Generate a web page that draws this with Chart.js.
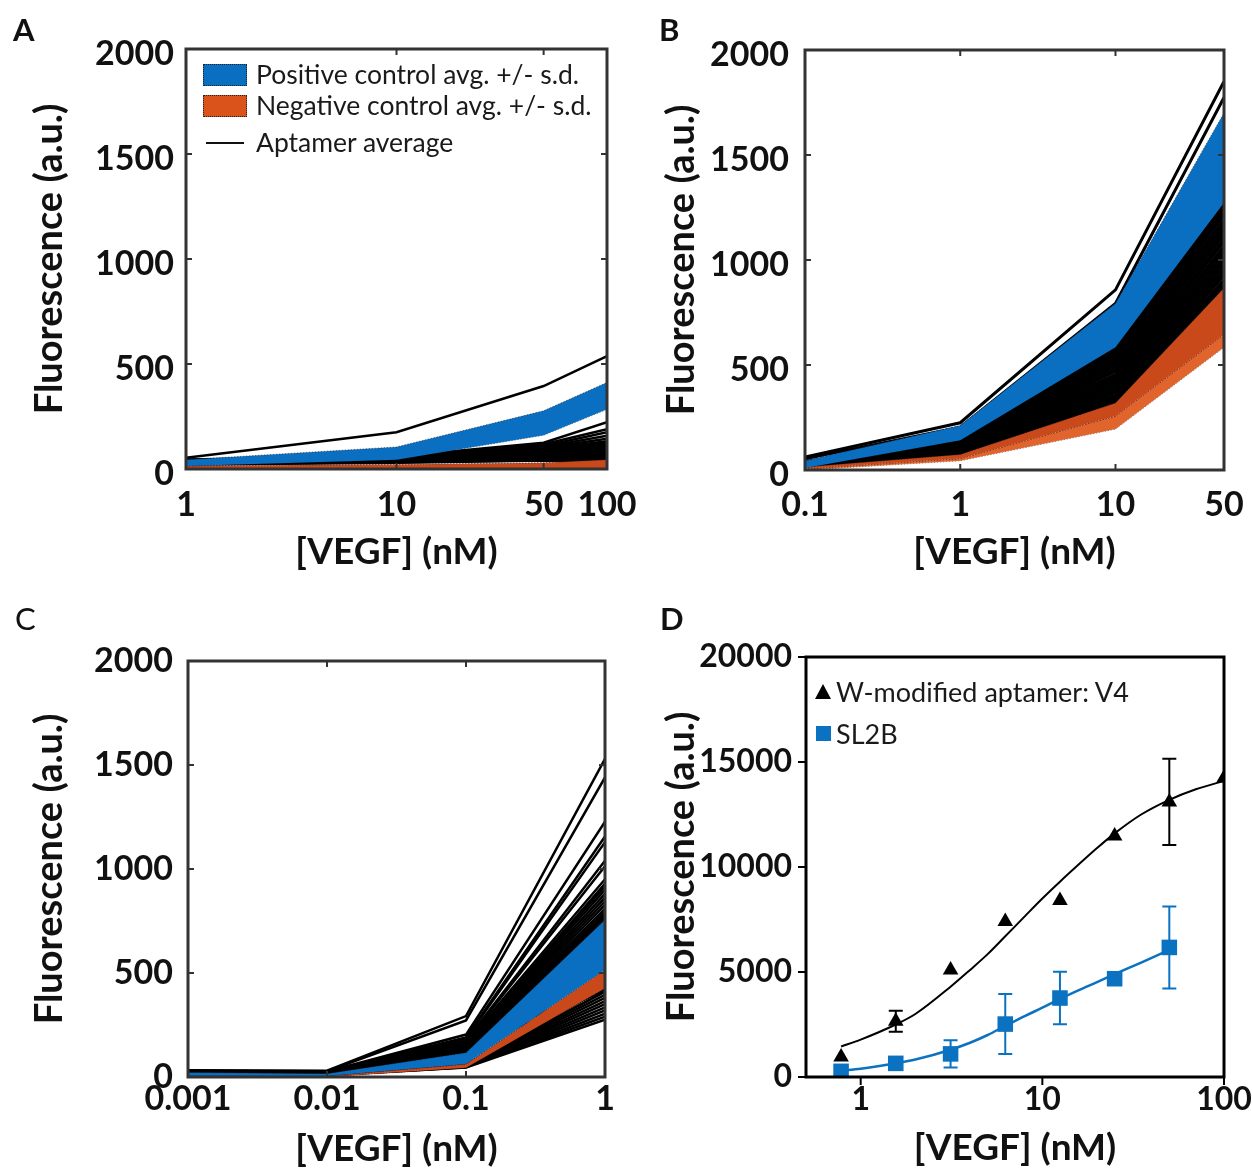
<!DOCTYPE html>
<html>
<head>
<meta charset="utf-8">
<script src="https://cdn.jsdelivr.net/npm/chart.js@4.4.1/dist/chart.umd.min.js"></script>
<style>
  body { margin: 0; background: #fff; }
  #page { position: relative; width: 1252px; height: 1171px; overflow: hidden; font-family: Lato, "Open Sans", sans-serif; color: #111; }
  canvas { position: absolute; }
  .letter { position: absolute; font-size: 31px; font-weight: bold; line-height: 31px; }
  .lg { position: absolute; font-size: 26.5px; line-height: 27px; white-space: nowrap; color: #1a1a1a; }
  .sw { position: absolute; width: 42px; height: 20px; border: 1.5px dotted #222; }
</style>
</head>
<body>
<div id="page">
  <canvas id="chartA" width="700" height="590" style="left:0;top:0"></canvas>
  <canvas id="chartB" width="680" height="590" style="left:630px;top:0"></canvas>
  <canvas id="chartC" width="650" height="581" style="left:0;top:590px"></canvas>
  <canvas id="chartD" width="680" height="581" style="left:630px;top:590px"></canvas>

  <div class="letter" style="left:13px;top:14px">A</div>
  <div class="letter" style="left:659px;top:14px">B</div>
  <div class="letter" style="left:15px;top:603px;font-weight:normal">C</div>
  <div class="letter" style="left:660px;top:603px">D</div>

  <div class="sw" style="left:203px;top:64px;background:#0a6fc0"></div>
  <div class="lg" style="left:256px;top:61px">Positive control avg. +/- s.d.</div>
  <div class="sw" style="left:203px;top:95px;background:#d9531b"></div>
  <div class="lg" style="left:256px;top:92px">Negative control avg. +/- s.d.</div>
  <div style="position:absolute;left:206px;top:142px;width:38px;height:2px;background:#111"></div>
  <div class="lg" style="left:256px;top:129px">Aptamer average</div>

  <div style="position:absolute;left:815px;top:684px;width:0;height:0;border-left:8px solid transparent;border-right:8px solid transparent;border-bottom:15px solid #000"></div>
  <div class="lg" style="left:836px;top:678px;font-size:27px">W-modified aptamer: V4</div>
  <div style="position:absolute;left:816px;top:726px;width:15px;height:15px;background:#0a72c0"></div>
  <div class="lg" style="left:836px;top:720px;font-size:27px">SL2B</div>
</div>

<script>
// ---- panel A: VEGF 1-100 nM
const concA = [1, 10, 50, 100];
const ticksA = [1, 10, 50, 100];
const posA_hi = [44, 105, 277, 412];
const posA_lo = [14, 44, 161, 284];
const negA_hi = [15, 22, 30, 44];
const negA_lo = [0, 2, 4, 5];
const aptA = [
  [53, 175, 395, 538],
  [45, 60, 125, 223],
  [44, 58, 118, 190],
  [42, 56, 110, 175],
  [40, 55, 105, 158],
  [40, 54, 100, 144],
  [38, 52, 95, 132],
  [37, 50, 90, 124],
  [36, 49, 86, 116],
  [35, 48, 82, 108],
  [34, 46, 78, 100],
  [33, 45, 74, 94],
  [32, 44, 70, 88],
  [31, 42, 66, 82],
  [30, 41, 63, 76],
  [29, 40, 60, 70],
  [28, 38, 57, 64],
  [27, 37, 54, 58],
  [26, 36, 51, 53],
  [25, 34, 48, 48],
  [24, 33, 45, 44],
  [23, 32, 42, 40],
  [22, 30, 40, 36]
];

// ---- panel B: VEGF 0.1-50 nM
const concB = [0.1, 1, 10, 50];
const ticksB = [0.1, 1, 10, 50];
const posB_hi = [44, 212, 793, 1700];
const posB_lo = [9, 142, 584, 1274];
const negB_hi = [14, 74, 319, 867];
const negB_mid = [6, 55, 257, 646];
const negB_lo = [0, 44, 195, 584];
const aptB = [
  [62, 225, 858, 1850],
  [53, 204, 793, 1774],
  [40, 142, 584, 1265],
  [38, 140, 570, 1250],
  [36, 138, 560, 1238],
  [35, 135, 548, 1222],
  [34, 132, 535, 1210],
  [33, 150, 500, 1232],
  [32, 128, 522, 1190],
  [31, 125, 510, 1172],
  [30, 122, 495, 1155],
  [29, 118, 482, 1138],
  [28, 115, 470, 1120],
  [27, 112, 455, 1100],
  [26, 108, 442, 1085],
  [25, 105, 430, 1065],
  [24, 102, 418, 1048],
  [23, 98, 405, 1030],
  [22, 95, 392, 1012],
  [21, 92, 380, 995],
  [20, 88, 368, 978],
  [19, 85, 355, 960],
  [18, 82, 345, 942],
  [17, 80, 335, 925],
  [16, 77, 328, 905],
  [15, 75, 322, 888],
  [15, 74, 319, 870]
];

// ---- panel C: VEGF 0.001-1 nM
const concC = [0.001, 0.01, 0.1, 1];
const ticksC = [0.001, 0.01, 0.1, 1];
const posC_hi = [22, 16, 116, 756];
const posC_lo = [6, 5, 62, 516];
const negC_hi = [6, 5, 62, 516];
const negC_lo = [0, 0, 44, 427];
const aptC = [
  [32, 30, 293, 1529],
  [30, 28, 272, 1440],
  [29, 27, 204, 1227],
  [28, 27, 190, 1156],
  [28, 26, 185, 1129],
  [27, 26, 175, 1040],
  [27, 25, 170, 1013],
  [26, 25, 165, 951],
  [26, 24, 160, 930],
  [25, 24, 158, 916],
  [25, 23, 155, 900],
  [24, 23, 150, 880],
  [24, 22, 146, 862],
  [23, 22, 142, 845],
  [23, 21, 138, 828],
  [22, 21, 134, 810],
  [22, 20, 130, 795],
  [21, 20, 127, 780],
  [21, 19, 124, 768],
  [20, 19, 120, 756],
  [22, 20, 150, 440],
  [21, 19, 135, 415],
  [16, 14, 60, 427],
  [15, 13, 58, 410],
  [15, 13, 56, 395],
  [14, 12, 55, 380],
  [14, 12, 54, 365],
  [13, 11, 52, 350],
  [13, 11, 50, 335],
  [12, 10, 49, 320],
  [12, 10, 48, 305],
  [11, 9, 47, 290],
  [11, 9, 46, 276]
];

// ---- panel D: binding curves
const concD = [0.78, 1.56, 3.125, 6.25, 12.5, 25, 50, 100];
const ticksD = [1, 10, 100];
const v4Mean = [950, 2650, 5100, 7400, 8400, 11480, 13100, 14240];
const v4Err = [0, 500, 0, 0, 0, 0, 2050, 0];
const concSL2B = [0.78, 1.56, 3.125, 6.25, 12.5, 25, 50];
const sl2bMean = [270, 650, 1100, 2520, 3760, 4680, 6170];
const sl2bErr = [0, 0, 650, 1430, 1250, 0, 1950];
const fitX_V4 = [0.78, 1, 1.56, 2, 3.125, 4, 5, 6.25, 8, 10, 12.5, 16, 20, 25, 35, 50, 70, 100];
const fitV4 = [1450, 1780, 2500, 3000, 4300, 5100, 5850, 6700, 7650, 8500, 9300, 10150, 10900, 11600, 12500, 13200, 13700, 14100];
const fitX_SL2B = [0.78, 1, 1.56, 2, 3.125, 4, 5, 6.25, 8, 10, 12.5, 16, 20, 25, 35, 50];
const fitSL2B = [300, 390, 650, 830, 1300, 1630, 2000, 2430, 2900, 3300, 3720, 4150, 4520, 4900, 5450, 6060];

const FONT = 'Lato, "Open Sans", sans-serif';
const BLUE = "#0a6fc0";
const ORANGE = "#c9491a";
const ORANGE_LIGHT = "#e0642c";

const xy = (xs, ys) => xs.map((x, i) => ({ x, y: ys[i] }));

function aptLines(xs, rows, width) {
  return rows.map(r => ({
    data: xy(xs, r), borderColor: "#000", borderWidth: width, pointRadius: 0, fill: false, order: 2
  }));
}

function band(xs, hi, lo, color) {
  return [
    { data: xy(xs, hi), borderColor: "rgba(20,20,40,0.55)", borderWidth: 1, borderDash: [1.5, 1.5],
      pointRadius: 0, fill: "+1", backgroundColor: color, order: 0 },
    { data: xy(xs, lo), borderColor: "rgba(20,20,40,0.55)", borderWidth: 1, borderDash: [1.5, 1.5],
      pointRadius: 0, fill: false, order: 0 }
  ];
}

// box round the plot area plus tick marks
const framePlugin = {
  id: "frame",
  afterDraw(chart, args, o) {
    const { ctx, chartArea: a, scales: { x, y } } = chart;
    ctx.save();
    ctx.strokeStyle = o.color;
    ctx.lineWidth = 2;
    ctx.beginPath();
    const len = o.tick;
    x.ticks.forEach(t => {
      const px = x.getPixelForValue(t.value);
      if (o.inward) {
        ctx.moveTo(px, a.bottom); ctx.lineTo(px, a.bottom - len);
        ctx.moveTo(px, a.top); ctx.lineTo(px, a.top + len);
      } else {
        ctx.moveTo(px, a.bottom); ctx.lineTo(px, a.bottom + len);
      }
    });
    y.ticks.forEach(t => {
      const py = y.getPixelForValue(t.value);
      if (o.inward) {
        ctx.moveTo(a.left, py); ctx.lineTo(a.left + len, py);
        ctx.moveTo(a.right, py); ctx.lineTo(a.right - len, py);
      } else {
        ctx.moveTo(a.left, py); ctx.lineTo(a.left - len, py);
      }
    });
    ctx.stroke();
    ctx.lineWidth = o.width;
    ctx.strokeRect(a.left, a.top, a.right - a.left, a.bottom - a.top);
    ctx.restore();
  }
};

// vertical error bars for datasets carrying an `errors` array
const errorBarPlugin = {
  id: "errorBars",
  beforeDatasetsDraw(chart) {
    const { ctx, scales: { x, y } } = chart;
    chart.data.datasets.forEach(ds => {
      if (!ds.errors) return;
      ctx.save();
      ctx.strokeStyle = ds.backgroundColor;
      ctx.lineWidth = 2;
      ds.data.forEach((p, i) => {
        const e = ds.errors[i];
        if (!e) return;
        const px = x.getPixelForValue(p.x);
        const top = y.getPixelForValue(p.y + e);
        const bot = y.getPixelForValue(p.y - e);
        ctx.beginPath();
        ctx.moveTo(px, top); ctx.lineTo(px, bot);
        ctx.moveTo(px - 7, top); ctx.lineTo(px + 7, top);
        ctx.moveTo(px - 7, bot); ctx.lineTo(px + 7, bot);
        ctx.stroke();
      });
      ctx.restore();
    });
  }
};

function makePanel(id, p) {
  const tickFont = { family: FONT, size: p.tickSize, weight: "bold", lineHeight: 1 };
  return new Chart(document.getElementById(id), {
    type: "line",
    data: { datasets: p.datasets },
    options: {
      animation: false,
      responsive: false,
      events: [],
      layout: { padding: { top: p.padTop, right: p.padRight, left: 0, bottom: 0 } },
      plugins: {
        legend: { display: false },
        tooltip: { enabled: false },
        frame: p.frame
      },
      scales: {
        x: {
          type: "logarithmic",
          min: p.xMin,
          max: p.xMax,
          afterFit: s => { s.height = p.xHeight; },
          afterBuildTicks: s => { s.ticks = p.xTicks.map(v => ({ value: v })); },
          ticks: { callback: v => String(v), font: tickFont, color: "#111", padding: p.xPad, maxRotation: 0, autoSkip: false },
          grid: { display: false, drawTicks: false },
          border: { display: false },
          title: { display: true, text: "[VEGF] (nM)", font: { family: FONT, size: 37, weight: "bold", lineHeight: 1 }, color: "#111", padding: { top: 0, bottom: p.xTitlePad } }
        },
        y: {
          min: 0,
          max: p.yMax,
          afterFit: s => { s.width = p.yWidth; },
          ticks: { stepSize: p.yStep, callback: v => String(v), font: tickFont, color: "#111", padding: p.yPad, labelOffset: p.yOffset },
          grid: { display: false, drawTicks: false },
          border: { display: false },
          title: { display: true, text: "Fluorescence (a.u.)", font: { family: FONT, size: 38, weight: "bold", lineHeight: 1 }, color: "#111", padding: { top: p.yTitlePad, bottom: 0 } }
        }
      }
    },
    plugins: [framePlugin, errorBarPlugin]
  });
}

const boxFrame = { color: "#333", width: 3, tick: 6, inward: true };

makePanel("chartA", {
  datasets: [...band(concA, posA_hi, posA_lo, BLUE), ...band(concA, negA_hi, negA_lo, ORANGE), ...aptLines(concA, aptA, 2.5)],
  xMin: 1, xMax: 100, xTicks: ticksA, yMax: 2000, yStep: 500,
  padTop: 49, padRight: 93, xHeight: 121, yWidth: 186,
  tickSize: 34, xPad: 19, yPad: 12, yOffset: 5, xTitlePad: 19, yTitlePad: 31,
  frame: boxFrame
});

makePanel("chartB", {
  datasets: [...band(concB, posB_hi, posB_lo, BLUE), ...band(concB, negB_hi, negB_mid, ORANGE), ...band(concB, negB_mid, negB_lo, ORANGE_LIGHT), ...aptLines(concB, aptB, 3)],
  xMin: 0.1, xMax: 50, xTicks: ticksB, yMax: 2000, yStep: 500,
  padTop: 50, padRight: 86, xHeight: 120, yWidth: 175,
  tickSize: 34, xPad: 18, yPad: 16, yOffset: 5, xTitlePad: 19, yTitlePad: 33,
  frame: boxFrame
});

makePanel("chartC", {
  datasets: [...band(concC, posC_hi, posC_lo, BLUE), ...band(concC, negC_hi, negC_lo, ORANGE), ...aptLines(concC, aptC, 2.5)],
  xMin: 0.001, xMax: 1, xTicks: ticksC, yMax: 2000, yStep: 500,
  padTop: 71, padRight: 45, xHeight: 94, yWidth: 188,
  tickSize: 34, xPad: 5, yPad: 15, yOffset: 0, xTitlePad: 3, yTitlePad: 31,
  frame: boxFrame
});

makePanel("chartD", {
  datasets: [
    { data: xy(concD, v4Mean), errors: v4Err, showLine: false, pointStyle: "triangle", pointRadius: 9,
      backgroundColor: "#000", borderColor: "#000", borderWidth: 0, order: 0 },
    { data: xy(concSL2B, sl2bMean), errors: sl2bErr, showLine: false, pointStyle: "rect", pointRadius: 11,
      backgroundColor: "#0a72c0", borderColor: "#0a72c0", borderWidth: 0, order: 0 },
    { data: xy(fitX_V4, fitV4), borderColor: "#000", borderWidth: 2, pointRadius: 0, cubicInterpolationMode: "monotone", order: 1 },
    { data: xy(fitX_SL2B, fitSL2B), borderColor: "#0a72c0", borderWidth: 2.5, pointRadius: 0, cubicInterpolationMode: "monotone", order: 1 }
  ],
  xMin: 0.5, xMax: 100, xTicks: ticksD, yMax: 20000, yStep: 5000,
  padTop: 67, padRight: 86, xHeight: 94, yWidth: 176,
  tickSize: 32, xPad: 7, yPad: 14, yOffset: 0, xTitlePad: 4, yTitlePad: 33,
  frame: { color: "#000", width: 3, tick: 8, inward: false }
});
</script>
</body>
</html>
